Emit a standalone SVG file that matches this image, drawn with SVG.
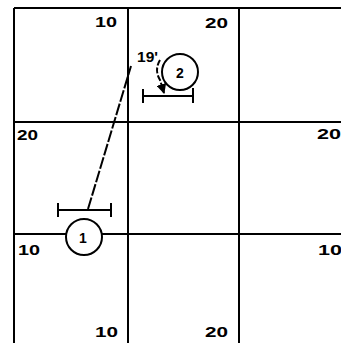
<svg xmlns="http://www.w3.org/2000/svg" width="341" height="343" viewBox="0 0 341 343">
<style>
.g{stroke:#000;stroke-width:2;fill:none}
.t{font-family:"Liberation Sans",Arial,sans-serif;font-weight:bold;font-size:14px;fill:#000}
.c{stroke:#000;stroke-width:2;fill:#fff}
</style>
<defs>
<marker id="ah" viewBox="0 0 10 10" refX="9" refY="5" markerWidth="5" markerHeight="5" orient="auto">
<path d="M0,0L10,5L0,10z" fill="#000"/>
</marker>
</defs>
<rect width="341" height="343" fill="#fff"/>
<g id="grid" class="g">
<line x1="14" y1="8" x2="341" y2="8"/>
<line x1="14" y1="122" x2="341" y2="122"/>
<line x1="14" y1="234" x2="341" y2="234"/>
<line x1="14" y1="8" x2="14" y2="343"/>
<line x1="128" y1="8" x2="128" y2="343"/>
<line x1="239" y1="8" x2="239" y2="343"/>
</g>
<g id="labels">
<text class="t" x="95" y="27" textLength="22" lengthAdjust="spacingAndGlyphs">10</text>
<text class="t" x="205" y="28" textLength="23" lengthAdjust="spacingAndGlyphs">20</text>
<text class="t" x="17" y="140" textLength="21" lengthAdjust="spacingAndGlyphs">20</text>
<text class="t" x="317" y="139" textLength="24" lengthAdjust="spacingAndGlyphs">20</text>
<text class="t" x="18" y="255" textLength="22" lengthAdjust="spacingAndGlyphs">10</text>
<text class="t" x="318" y="255" textLength="24" lengthAdjust="spacingAndGlyphs">10</text>
<text class="t" x="95" y="337" textLength="23" lengthAdjust="spacingAndGlyphs">10</text>
<text class="t" x="205" y="337" textLength="23" lengthAdjust="spacingAndGlyphs">20</text>
</g>
<g id="connectors" class="g">
<line x1="88" y1="209" x2="131" y2="66" stroke-dasharray="12 2"/>
<path d="M160,60 Q154,70 160,80 L164,93" stroke-dasharray="6 2" marker-end="url(#ah)"/>
</g>
<g id="bracket1" class="g">
<line x1="58" y1="210" x2="111" y2="210"/>
<line x1="58" y1="203" x2="58" y2="217"/>
<line x1="111" y1="203" x2="111" y2="217"/>
</g>
<g id="bracket2" class="g">
<line x1="143" y1="96" x2="193" y2="96"/>
<line x1="143" y1="89" x2="143" y2="103"/>
<line x1="193" y1="88" x2="193" y2="103"/>
</g>
<g id="node1">
<circle class="c" cx="84" cy="237" r="18"/>
<text class="t" x="83" y="243" text-anchor="middle" font-size="16">1</text>
</g>
<g id="node2">
<circle class="c" cx="180" cy="72" r="18"/>
<text class="t" x="180" y="78" text-anchor="middle" font-size="16">2</text>
</g>
<g id="label19">
<text class="t" x="137" y="62" textLength="21" lengthAdjust="spacingAndGlyphs">19'</text>
</g>
</svg>
